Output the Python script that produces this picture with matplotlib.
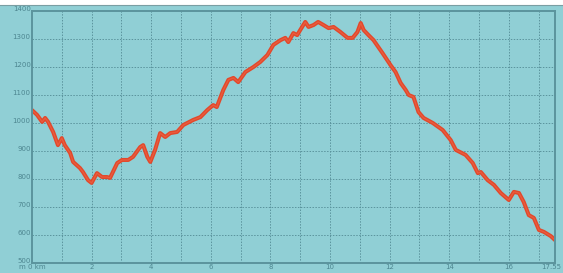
import matplotlib
matplotlib.use('Agg')
import matplotlib.pyplot as plt
import matplotlib.transforms as mtransforms
from matplotlib.patches import Rectangle

# elevation profile: distance (km) / elevation (m)
dist_km = [0, 0.17, 0.34, 0.44, 0.54, 0.71, 0.87, 1.0, 1.1, 1.28, 1.38, 1.61, 1.71, 1.88, 2.0,
           2.18, 2.35, 2.52, 2.62, 2.86, 3.02, 3.23, 3.39, 3.63, 3.73, 3.87, 3.97, 4.13, 4.3,
           4.47, 4.64, 4.87, 5.08, 5.41, 5.65, 5.88, 6.08, 6.2, 6.42, 6.59, 6.76, 6.92, 7.16,
           7.43, 7.66, 7.9, 8.1, 8.34, 8.5, 8.6, 8.77, 8.9, 9.0, 9.17, 9.28, 9.45, 9.6, 9.78,
           9.95, 10.12, 10.35, 10.59, 10.76, 10.92, 11.03, 11.13, 11.29, 11.46, 11.76, 12.03,
           12.2, 12.37, 12.54, 12.64, 12.8, 12.97, 13.14, 13.45, 13.78, 14.05, 14.22, 14.55,
           14.79, 14.96, 15.06, 15.29, 15.5, 15.73, 16.0, 16.17, 16.34, 16.5, 16.67, 16.84,
           17.01, 17.18, 17.41, 17.55]
elev_m = [1046, 1029, 1004, 1018, 1004, 968, 921, 946, 921, 893, 861, 839, 825, 796, 786,
          821, 807, 807, 804, 857, 868, 868, 879, 914, 921, 879, 861, 904, 964,
          950, 964, 968, 993, 1011, 1021, 1046, 1064, 1057, 1118, 1154, 1161, 1146, 1182,
          1200, 1218, 1243, 1279, 1296, 1304, 1289, 1321, 1314, 1332, 1361, 1343, 1350, 1361, 1350,
          1339, 1343, 1325, 1304, 1304, 1325, 1357, 1332, 1314, 1296, 1250, 1207,
          1182, 1143, 1118, 1100, 1093, 1039, 1018, 1000, 975, 939, 904, 886,
          857, 821, 825, 796, 779, 750, 725, 754, 750, 718, 671, 661,
          618, 611, 596, 582]

y_ticks = [500, 600, 700, 800, 900, 1000, 1100, 1200, 1300, 1400]
x_ticks = [0, 2, 4, 6, 8, 10, 12, 14, 16, 17.55]
x_labels = ['m 0 km', '2', '4', '6', '8', '10', '12', '14', '16', '17.55']

bg = '#90cfd5'
dark = '#5b949d'
txt = '#4d8690'

fig = plt.figure(figsize=(5.63, 2.73), dpi=100, facecolor=bg)
# white strip at the very top
fig.patches.append(Rectangle((0, 0.982), 1, 0.018, transform=fig.transFigure,
                             facecolor='white', edgecolor='none'))
fig.lines.append(plt.Line2D([0, 1], [0.981, 0.981], transform=fig.transFigure,
                            color='#7a9ea3', lw=0.8))

ax = fig.add_axes([32 / 563, 10 / 273, 523 / 563, 252 / 273])
ax.set_facecolor(bg)

ax.plot(dist_km, elev_m, color='#e2482b', lw=2.9, solid_capstyle='round', solid_joinstyle='round')
ax.plot(dist_km, elev_m, color='#ee6a4c', lw=0.9, alpha=0.6)

ax.set_xlim(0, 17.55)
ax.set_ylim(500, 1400)

# grid every km / every 100 m
for k in range(1, 18):
    ax.axvline(k, color=dark, lw=0.7, ls=(0, (1.5, 1.5)), zorder=0)
for v in y_ticks[1:-1]:
    ax.axhline(v, color=dark, lw=0.7, ls=(0, (1.5, 1.5)), zorder=0)

for s in ax.spines.values():
    s.set_color(dark)
    s.set_linewidth(1.4)

ax.set_yticks(y_ticks)
ax.set_yticklabels([str(v) for v in y_ticks])
ax.set_xticks(x_ticks)
ax.set_xticklabels(x_labels)
ax.tick_params(length=0, labelsize=5, labelcolor=txt, pad=1)
for lab in ax.get_yticklabels():
    lab.set_verticalalignment('center')
    lab.set_transform(lab.get_transform() + mtransforms.ScaledTranslation(0, 2 / 100, fig.dpi_scale_trans))
# keep the last distance label inside the picture
last = ax.get_xticklabels()[-1]
last.set_transform(last.get_transform() + mtransforms.ScaledTranslation(-4 / 100, 0, fig.dpi_scale_trans))

fig.savefig('out.png', dpi=100, facecolor=bg)
